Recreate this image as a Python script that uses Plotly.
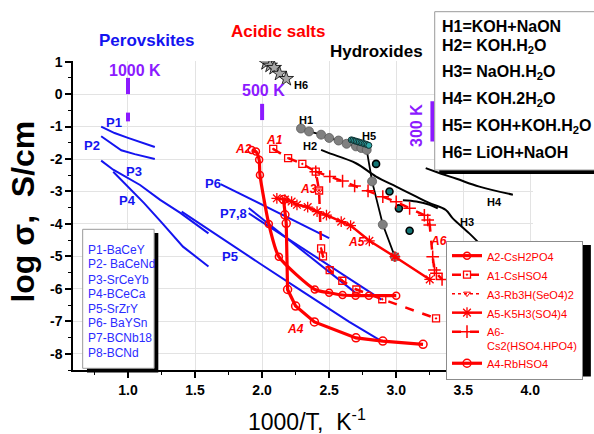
import plotly.graph_objects as go

FONT = "Liberation Sans, Arial, sans-serif"
BLUE = "#1414f0"
RED = "#ff0000"
PURPLE = "#8c1aff"

# ---------------- Perovskites (log sigma vs 1000/T) ----------------
p1_x = [0.80, 0.90, 1.00, 1.10, 1.20]
p1_y = [-1.00, -1.20, -1.35, -1.49, -1.63]
p2_x = [0.80, 0.90, 0.95, 1.05, 1.20]
p2_y = [-1.30, -1.60, -1.73, -1.85, -2.00]
p3_x = [0.80, 0.89, 1.09, 1.24, 1.39, 1.60]
p3_y = [-2.05, -2.33, -2.80, -3.26, -3.66, -4.29]
p4_x = [0.89, 1.00, 1.12, 1.25, 1.41, 1.60]
p4_y = [-2.39, -2.85, -3.36, -3.95, -4.70, -5.31]
p5_x = [1.40, 1.70, 1.98, 2.30, 2.65, 2.89]
p5_y = [-3.62, -4.45, -5.21, -6.08, -7.02, -7.61]
p6_x = [1.69, 2.00, 2.20, 2.50]
p6_y = [-2.77, -3.41, -3.82, -4.44]
p7_x = [1.90, 2.69]
p7_y = [-3.51, -6.10]
p8_x = [1.90, 2.89]
p8_y = [-3.67, -6.33]

# ---------------- Acidic salts ----------------
a2_x = [1.922, 1.954, 1.978, 1.984, 2.05, 2.125, 2.393, 2.50, 2.60, 2.697, 2.796, 3.00]
a2_y = [-1.72, -1.77, -2.02, -2.49, -4.00, -5.01, -6.02, -6.12, -6.19, -6.21, -6.21, -6.21]
a1_x = [2.083, 2.194, 2.30, 2.40, 2.425, 2.44, 2.454, 2.504, 2.598, 2.703, 2.896, 3.297]
a1_y = [-1.69, -1.97, -2.15, -2.39, -2.97, -4.75, -5.00, -5.42, -5.75, -6.02, -6.32, -6.91]
a3_x = [2.425]
a3_y = [-2.97]
a5_x = [2.11, 2.17, 2.22, 2.26, 2.34, 2.41, 2.48, 2.59, 2.66, 2.80, 2.99, 3.25]
a5_y = [-3.21, -3.25, -3.31, -3.41, -3.48, -3.62, -3.73, -3.93, -4.05, -4.52, -5.01, -5.71]
a6_x = [2.40, 2.505, 2.60, 2.69, 2.79, 2.90, 3.00, 3.10, 3.21, 3.235, 3.25, 3.272, 3.285, 3.30, 3.342]
a6_y = [-2.39, -2.54, -2.68, -2.83, -2.98, -3.16, -3.32, -3.52, -3.73, -3.88, -4.03, -5.01, -5.42, -5.52, -5.71]
a4_x = [2.16, 2.17, 2.18, 2.19, 2.25, 2.39, 2.70, 2.90, 3.20]
a4_y = [-3.25, -3.72, -3.98, -6.02, -6.53, -7.02, -7.51, -7.61, -7.71]

# ---------------- Hydroxides ----------------
h1_x = [2.29, 2.35, 2.44, 2.50, 2.57, 2.63, 2.70, 2.74, 2.78, 2.82, 2.90, 2.99]
h1_y = [-1.06, -1.15, -1.25, -1.35, -1.43, -1.53, -1.61, -1.66, -1.72, -2.69, -4.02, -5.01]
h2_x = [2.44, 2.50, 2.70, 2.85, 3.00, 3.15, 3.25, 3.37, 3.42, 3.545, 3.644]
h2_y = [-1.72, -1.82, -2.13, -2.54, -2.85, -3.16, -3.36, -3.57, -3.82, -4.29, -4.70]
h3_x = [3.05, 3.15, 3.25, 3.31]
h3_y = [-3.27, -3.31, -3.41, -3.52]
h4_x = [3.22, 3.30, 3.45, 3.62, 3.87]
h4_y = [-2.28, -2.40, -2.61, -2.85, -3.10]
h5_x = [2.665, 2.677, 2.689, 2.701, 2.713, 2.725, 2.737, 2.749, 2.761, 2.773, 2.785, 2.796]
h5_y = [-1.41, -1.42, -1.44, -1.45, -1.47, -1.48, -1.50, -1.51, -1.53, -1.54, -1.56, -1.58]
h5b_x = [2.85, 2.95, 3.02, 3.10]
h5b_y = [-2.15, -3.00, -3.52, -4.21]
h6_x = [2.03, 2.06, 2.09, 2.13, 2.18]
h6_y = [0.96, 0.88, 0.81, 0.63, 0.47]

# temperature markers: (x position, y from, y to)
temp_marks = [(1.0, 0.5, 0.0), (1.0, -0.57, -0.84), (2.0, -0.30, -0.80), (3.27, -0.22, -1.46)]

# axis ticks
x_ticks = [1.0, 1.5, 2.0, 2.5, 3.0, 3.5, 4.0]
x_ticktext = ["1.0", "1.5", "2.0", "2.5", "3.0", "3.5", "4.0"]
y_ticks = [1, 0, -1, -2, -3, -4, -5, -6, -7, -8]
y_ticktext = ["1", "0", "-1", "-2", "-3", "-4", "-5", "-6", "-7", "-8"]

# text blocks
perov_names = ["P1-BaCeY", "P2- BaCeNd", "P3-SrCeYb", "P4-BCeCa", "P5-SrZrY",
               "P6- BaYSn", "P7-BCNb18", "P8-BCNd"]
hydro_names = ["H1=KOH+NaON", "H2= KOH.H<sub>2</sub>O", "H3= NaOH.H<sub>2</sub>O",
               "H4= KOH.2H<sub>2</sub>O", "H5= KOH+KOH.H<sub>2</sub>O", "H6= LiOH+NaOH"]

# ---------------- figure geometry ----------------
W, H = 594, 434
ML, MR, MT, MB = 73, 60, 61, 64
PW, PH = W - ML - MR, H - MT - MB


def px_x(px):
    return (px - ML) / PW


def px_y(py):
    return (H - MB - py) / PH


fig = go.Figure()


def add_line(x, y, color=BLUE, width=2, **kw):
    fig.add_trace(go.Scatter(x=x, y=y, mode="lines", showlegend=False,
                             line=dict(color=color, width=width), hoverinfo="skip", **kw))


# perovskite curves
for xs, ys in [(p1_x, p1_y), (p2_x, p2_y), (p3_x, p3_y), (p4_x, p4_y),
               (p5_x, p5_y), (p6_x, p6_y), (p7_x, p7_y), (p8_x, p8_y)]:
    add_line(xs, ys, BLUE, 2)

# hydroxides
fig.add_trace(go.Scatter(x=h2_x, y=h2_y, mode="lines", showlegend=False,
                         line=dict(color="black", width=2), line_shape="spline"))
fig.add_trace(go.Scatter(x=h3_x, y=h3_y, mode="lines", showlegend=False,
                         line=dict(color="black", width=2), line_shape="spline"))
fig.add_trace(go.Scatter(x=h4_x, y=h4_y, mode="lines", showlegend=False,
                         line=dict(color="black", width=2), line_shape="spline"))
fig.add_trace(go.Scatter(x=h1_x, y=h1_y, mode="lines+markers", showlegend=False,
                         line=dict(color="black", width=1.8),
                         marker=dict(symbol="circle", size=9, color="#808080",
                                     line=dict(color="#5a5a5a", width=0.8))))
fig.add_trace(go.Scatter(x=h5_x, y=h5_y, mode="markers", showlegend=False,
                         marker=dict(symbol="circle", size=6, color="#2fa8a8",
                                     line=dict(color="#103030", width=1))))
fig.add_trace(go.Scatter(x=h5b_x, y=h5b_y, mode="markers", showlegend=False,
                         marker=dict(symbol="circle", size=7, color="#137575",
                                     line=dict(color="black", width=1.6))))
fig.add_trace(go.Scatter(x=h6_x, y=h6_y, mode="lines+markers", showlegend=False,
                         line=dict(color="black", width=1),
                         marker=dict(symbol="star", size=11, color="#a8a8a8",
                                     line=dict(color="black", width=0.8))))

# acidic salts (these carry the legend)
fig.add_trace(go.Scatter(x=a2_x, y=a2_y, name="A2-CsH2PO4", mode="lines+markers",
                         line=dict(color=RED, width=3.2, shape="spline", smoothing=0.6),
                         marker=dict(symbol="circle-open", size=7, color=RED, line=dict(width=1.5))))
fig.add_trace(go.Scatter(x=a1_x, y=a1_y, name="A1-CsHSO4", mode="lines+markers",
                         line=dict(color=RED, width=2.5, dash="dash"),
                         marker=dict(symbol="square-open-dot", size=7, color=RED, line=dict(width=1.3))))
fig.add_trace(go.Scatter(x=a3_x, y=a3_y, name="A3-Rb3H(SeO4)2", mode="lines+markers",
                         line=dict(color=RED, width=1.5, dash="dot"),
                         marker=dict(symbol="triangle-down-open", size=6, color=RED, line=dict(width=1))))
fig.add_trace(go.Scatter(x=a5_x, y=a5_y, name="A5-K5H3(SO4)4", mode="lines+markers",
                         line=dict(color=RED, width=2.5),
                         marker=dict(symbol="asterisk-open", size=9, color=RED, line=dict(width=1.3, color=RED))))
fig.add_trace(go.Scatter(x=a6_x, y=a6_y, name="A6-<br>Cs2(HSO4.HPO4)", mode="lines+markers",
                         line=dict(color=RED, width=2.5, dash="dash"),
                         marker=dict(symbol="cross-thin-open", size=9, color=RED, line=dict(width=1.5, color=RED))))
fig.add_trace(go.Scatter(x=a4_x, y=a4_y, name="A4-RbHSO4", mode="lines+markers",
                         line=dict(color=RED, width=3.2),
                         marker=dict(symbol="circle-open", size=8, color=RED, line=dict(width=1.5))))

# ---------------- shapes ----------------
shapes = []
for xv, y0, y1 in temp_marks:
    shapes.append(dict(type="line", xref="x", yref="y", x0=xv, x1=xv, y0=y0, y1=y1,
                       line=dict(color=PURPLE, width=4), layer="above"))


def rect(x0, y0, x1, y1, fill, line_color=None, lw=0):
    return dict(type="rect", xref="paper", yref="paper",
                x0=px_x(x0), x1=px_x(x1), y0=px_y(y1), y1=px_y(y0),
                fillcolor=fill, line=dict(color=line_color or fill, width=lw), layer="above")


# perovskite box with shadow
shapes.append(rect(87, 233, 158.5, 372.5, "black"))
shapes.append(rect(82.7, 229.3, 154.3, 368.3, "white", "#9a9a9a", 1))
# hydroxide box with shadow
shapes.append(rect(440, 160, 600, 174, "black"))
shapes.append(rect(435.5, 11.7, 600, 170, "white", "#9a9a9a", 1))
# acidic salts legend shadow
shapes.append(rect(450, 245, 592, 376.5, "black"))

# ---------------- annotations ----------------
ann = []


def text(px, py, s, size=12, color="black", bold=False, italic=False, xanchor="center",
         yanchor="middle", angle=0):
    st = s
    if bold:
        st = "<b>" + st + "</b>"
    if italic:
        st = "<i>" + st + "</i>"
    ann.append(dict(x=px_x(px), y=px_y(py), xref="paper", yref="paper", text=st, showarrow=False,
                    xanchor=xanchor, yanchor=yanchor, textangle=angle,
                    font=dict(family=FONT, size=size, color=color)))


def dlabel(x, y, s, size=12, color="black", italic=False):
    st = "<b>" + s + "</b>"
    if italic:
        st = "<i>" + st + "</i>"
    ann.append(dict(x=x, y=y, xref="x", yref="y", text=st, showarrow=False,
                    font=dict(family=FONT, size=size, color=color)))


# group headings
text(146.7, 40, "Perovskites", 17, BLUE, bold=True)
text(278.5, 31.7, "Acidic salts", 17, RED, bold=True)
text(377, 51.7, "Hydroxides", 17, "black", bold=True)

# temperature labels
text(135, 70, "1000 K", 16, PURPLE, bold=True)
text(263.5, 90.7, "500 K", 16, PURPLE, bold=True)
text(416.7, 125, "300 K", 16, PURPLE, bold=True, angle=-90)

# curve labels
for x, y, s in [(0.893, -0.89, "P1"), (0.73, -1.58, "P2"), (1.047, -2.39, "P3"), (0.993, -3.28, "P4"),
                (1.761, -4.99, "P5"), (1.637, -2.74, "P6"), (1.785, -3.67, "P7,8")]:
    dlabel(x, y, s, 13, BLUE)
for x, y, s in [(2.095, -1.41, "A1"), (1.86, -1.69, "A2"), (2.343, -2.93, "A3"), (2.251, -7.24, "A4"),
                (2.703, -4.57, "A5"), (3.317, -4.52, "A6")]:
    dlabel(x, y, s, 12, RED, italic=True)
for x, y, s in [(2.33, -0.79, "H1"), (2.355, -1.61, "H2"), (3.53, -3.94, "H3"), (3.73, -3.31, "H4"),
                (2.796, -1.28, "H5"), (2.289, 0.29, "H6")]:
    dlabel(x, y, s, 11, "black")

# perovskite key
for i, s in enumerate(perov_names):
    text(86, [250, 264.3, 280, 294.3, 308.7, 323.3, 337.7, 353.3][i], s, 12, "#2b2bff", xanchor="left")

# hydroxide key
for i, s in enumerate(hydro_names):
    text(441, [26.7, 46.7, 72.7, 99.3, 126, 152.7][i], s, 16, "black", bold=True, xanchor="left")

# axis titles
text(22.5, 212, "log σ,\u00a0\u00a0S/cm", 32, "black", bold=True, angle=-90)
text(308, 420, "1000/T,\u00a0\u00a0K<sup>-1</sup>", 23, "black")

fig.update_layout(
    width=W, height=H, margin=dict(l=ML, r=MR, t=MT, b=MB),
    paper_bgcolor="white", plot_bgcolor="white",
    shapes=shapes, annotations=ann,
    showlegend=True,
    legend=dict(x=px_x(446), y=px_y(241), xanchor="left", yanchor="top",
                bgcolor="white", bordercolor="#8c8c8c", borderwidth=1,
                font=dict(family=FONT, size=11, color=RED), itemwidth=30,
                valign="top", tracegroupgap=0),
)
fig.update_xaxes(range=[0.59, 4.02], tickvals=x_ticks, ticktext=x_ticktext,
                 showgrid=True, gridcolor="#e3e3e3", gridwidth=1, zeroline=False,
                 showline=True, linecolor="black", linewidth=1.5,
                 ticks="outside", ticklen=6, tickwidth=1.5, tickcolor="black",
                 tickfont=dict(family=FONT, size=14, color="black", weight="bold"),
                 minor=dict(dtick=0.25, tick0=0, ticks="outside", ticklen=3, tickwidth=1.2,
                            tickcolor="black", showgrid=False))
fig.update_yaxes(range=[-8.5, 1.02], tickvals=y_ticks, ticktext=y_ticktext,
                 showgrid=True, gridcolor="#e3e3e3", gridwidth=1, zeroline=False,
                 showline=True, linecolor="black", linewidth=1.5,
                 ticks="outside", ticklen=6, tickwidth=1.5, tickcolor="black",
                 tickfont=dict(family=FONT, size=14, color="black", weight="bold"),
                 minor=dict(dtick=0.5, tick0=0, ticks="outside", ticklen=3, tickwidth=1.2,
                            tickcolor="black", showgrid=False))

fig.write_html("out.html")
